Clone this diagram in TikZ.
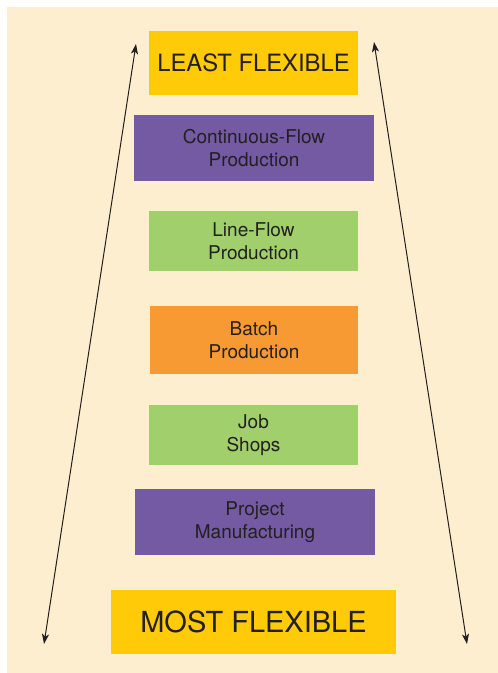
\documentclass[tikz,border=0pt]{standalone}
\usepackage{fontspec}
\setmainfont{TeX Gyre Heros}
\usetikzlibrary{arrows.meta}
\definecolor{cream}{HTML}{FDEECF}
\definecolor{gold}{HTML}{FFCB08}
\definecolor{violet}{HTML}{7459A3}
\definecolor{leaf}{HTML}{A0CF6B}
\definecolor{amber}{HTML}{F79A33}
\definecolor{ink}{HTML}{231F20}
\tikzset{
  box/.style={inner sep=0pt, align=center, text=ink, font=\fontsize{19}{23}\selectfont},
  bigbox/.style={box, fill=gold},
  spanarrow/.style={ink, line width=1pt, {Stealth[length=10pt,width=7pt,inset=2.5pt]}-{Stealth[length=10pt,width=7pt,inset=2.5pt]}}
}
\begin{document}
\begin{tikzpicture}[x=1pt,y=-1pt]
\useasboundingbox (0,0) rectangle (498,673);
\fill[cream] (7,7) rectangle (498,673);
\node[bigbox, minimum width=209pt, minimum height=64pt, font=\fontsize{23.8}{28}\selectfont] (least) at (253.5,63) {LEAST FLEXIBLE};
\node[box, fill=violet, minimum width=240pt, minimum height=66pt] (cont) at (254,148) {Continuous-Flow\\Production};
\node[box, fill=leaf, minimum width=209pt, minimum height=60pt] (line) at (253.5,241) {Line-Flow\\Production};
\node[box, fill=amber, minimum width=208pt, minimum height=68pt] (batch) at (254,340) {Batch\\Production};
\node[box, fill=leaf, minimum width=209pt, minimum height=60pt] (job) at (253.5,435) {Job\\Shops};
\node[box, fill=violet, minimum width=240pt, minimum height=66pt] (proj) at (255,522) {Project\\Manufacturing};
\node[bigbox, minimum width=285pt, minimum height=64pt, font=\fontsize{29}{34}\selectfont] (most) at (253.5,622) {MOST FLEXIBLE};
\coordinate (lt) at (136,44);
\coordinate (lb) at (44,644);
\coordinate (rt) at (374,42);
\coordinate (rb) at (467,644);
\draw[spanarrow] (lb) -- (lt);
\draw[spanarrow] (rb) -- (rt);
\end{tikzpicture}
\end{document}
